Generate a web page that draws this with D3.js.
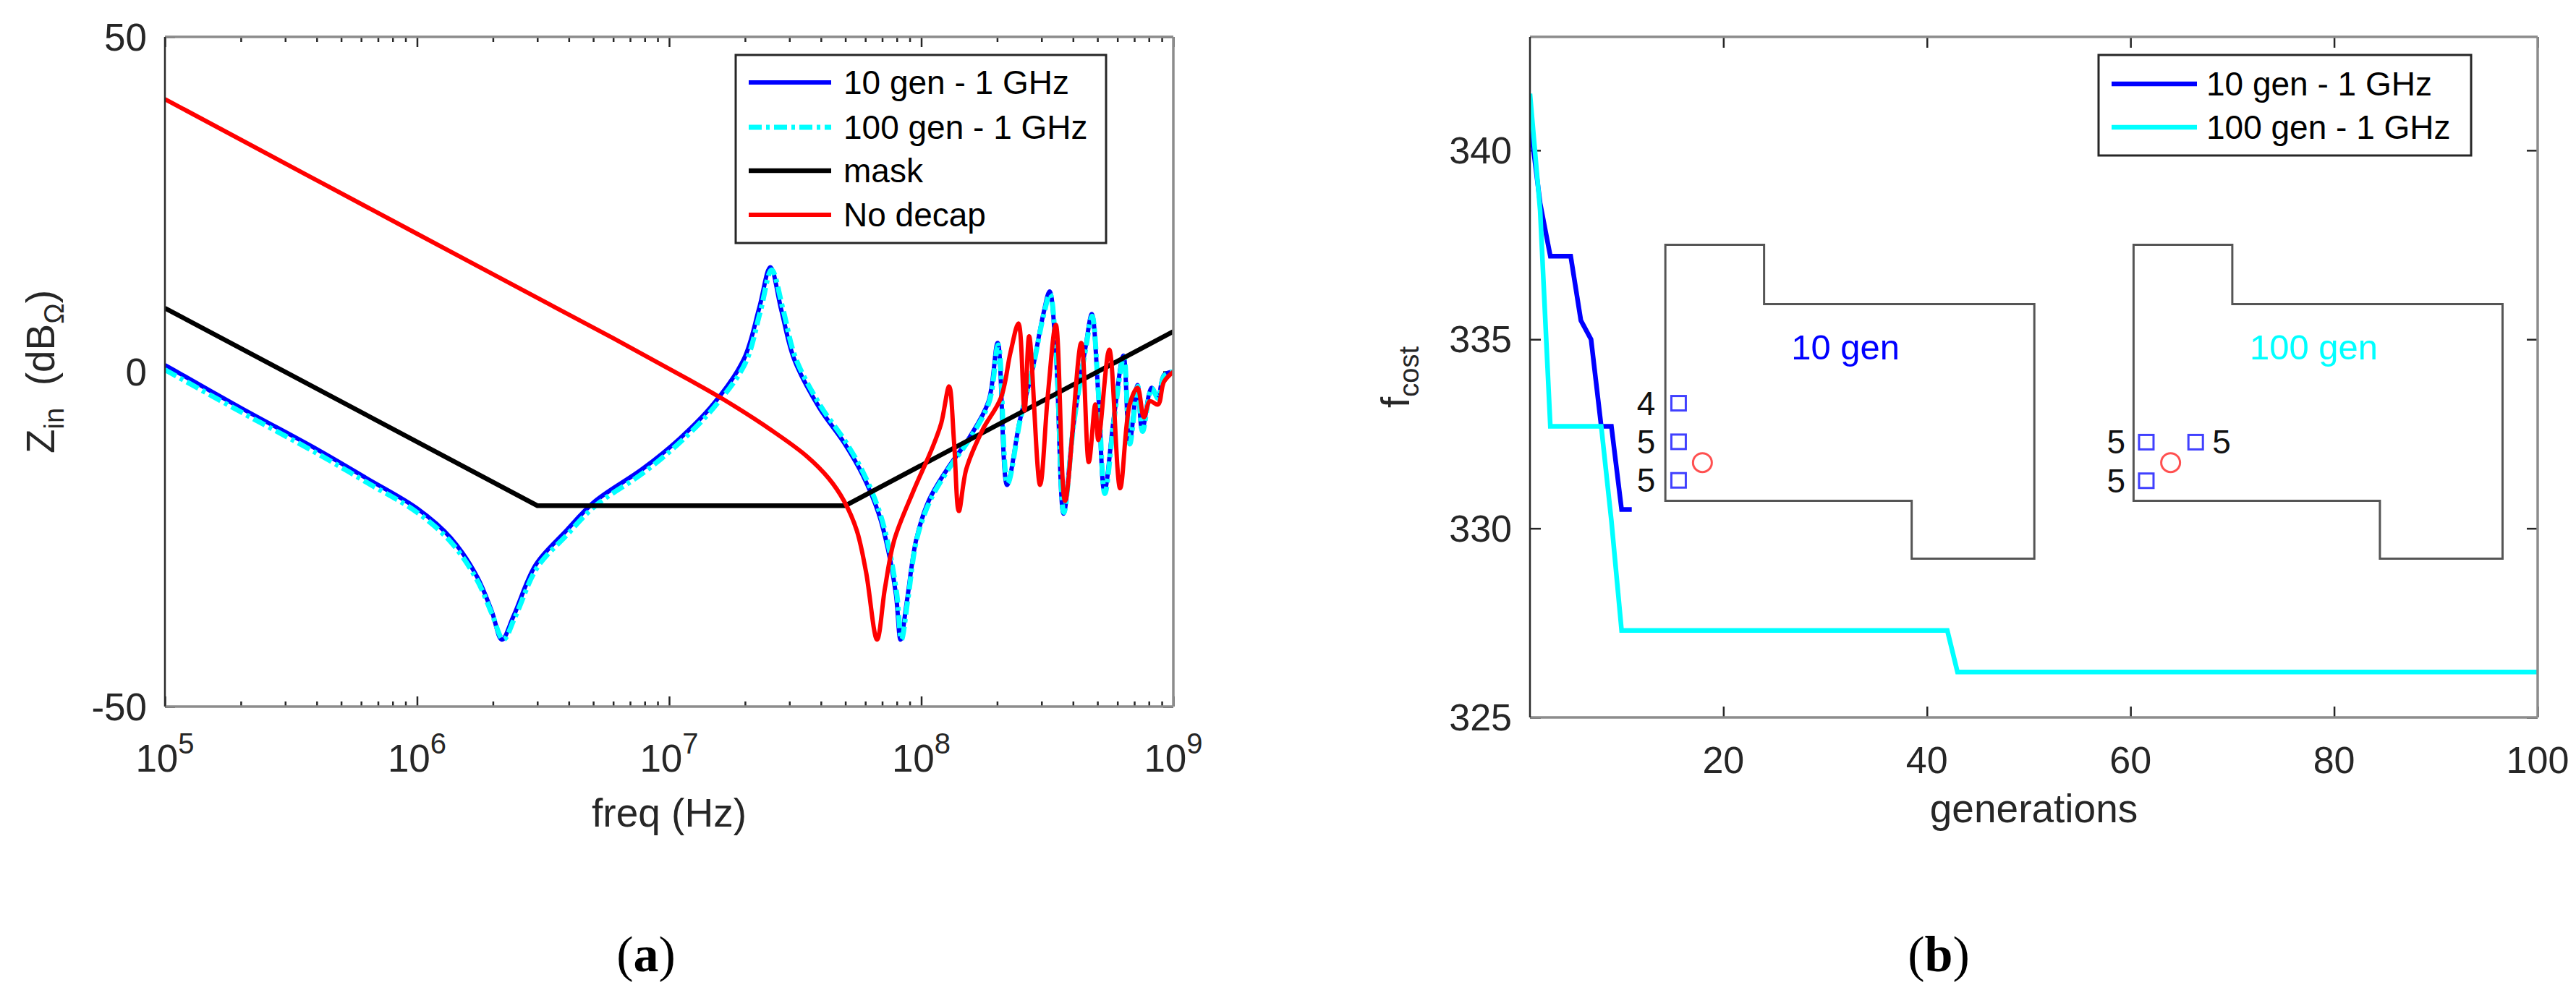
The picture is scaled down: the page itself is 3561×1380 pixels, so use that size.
<!DOCTYPE html>
<html><head><meta charset="utf-8">
<script src="https://cdn.jsdelivr.net/npm/d3@7/dist/d3.min.js"></script>
<style>body{margin:0;background:#fff}</style>
</head><body>
<svg id="chart" width="3561" height="1380" xmlns="http://www.w3.org/2000/svg"></svg>
<script>
// ---------------- DATA ----------------
// (a) input impedance vs frequency
const freqDecades = [1e5, 1e6, 1e7, 1e8, 1e9];
const freqExponents = ["5", "6", "7", "8", "9"];
const zTicks = [-50, 0, 50];
const zTickLabels = ["-50", "0", "50"];

const gen10Z = [
  [1e5,1.0],[2e5,-5.4],[4.06e5,-11.7],[6.3e5,-15.9],[1.0e6,-20.4],[1.36e6,-24.8],[1.73e6,-30.6],
  [1.98e6,-35.8],[2.17e6,-40.0],[2.42e6,-36.4],[2.96e6,-28.8],[3.87e6,-23.9],[5.06e6,-19.4],
  [7.85e6,-14.5],[1.1e7,-10.0],[1.5e7,-4.8],[1.98e7,1.9],[2.28e7,9.6],[2.52e7,15.6],[2.79e7,9.1],
  [3.13e7,1.9],[3.93e7,-5.3],[4.94e7,-10.6],[5.87e7,-15.5],[6.78e7,-21.2],[7.38e7,-26.5],
  [7.94e7,-33.3],[8.28e7,-40.0],[8.77e7,-34.3],[9.55e7,-25.1],[1.07e8,-19.3],[1.27e8,-14.5],
  [1.56e8,-9.7],[1.85e8,-4.4],[2.01e8,4.3],[2.19e8,-16.9],[2.46e8,-7.3],[2.75e8,0.0],[3.05e8,8.6],
  [3.23e8,12.0],[3.42e8,2.9],[3.67e8,-21.2],[4.01e8,-8.2],[4.49e8,3.8],[4.75e8,8.6],[5.04e8,-3.4],
  [5.33e8,-17.9],[5.81e8,-6.8],[6.34e8,2.4],[6.70e8,-10.6],[7.21e8,-2.0],[7.52e8,-8.7],
  [8.2e8,-2.4],[8.69e8,-3.9],[9.18e8,-0.5],[1e9,0.0]
];
const gen100Z = [
  [1e5,0.3],[2e5,-6.0],[4.06e5,-12.3],[6.3e5,-16.5],[1.0e6,-21.0],[1.36e6,-25.4],[1.73e6,-31.1],
  [1.98e6,-36.1],[2.2e6,-40.0],[2.45e6,-36.6],[3.0e6,-29.2],[3.9e6,-24.5],[5.1e6,-20.0],
  [7.9e6,-15.1],[1.1e7,-10.6],[1.5e7,-5.4],[2.0e7,1.2],[2.3e7,9.0],[2.55e7,15.2],[2.83e7,9.3],
  [3.17e7,2.1],[3.97e7,-5.0],[5.0e7,-10.4],[5.93e7,-15.3],[6.84e7,-21.0],[7.45e7,-26.4],
  [8.0e7,-33.2],[8.35e7,-40.0],[8.85e7,-34.0],[9.6e7,-25.0],[1.08e8,-19.4],[1.28e8,-14.6],
  [1.57e8,-9.8],[1.86e8,-4.5],[2.02e8,4.0],[2.2e8,-16.7],[2.47e8,-7.2],[2.76e8,0.2],[3.06e8,8.5],
  [3.24e8,11.6],[3.43e8,2.8],[3.68e8,-21.0],[4.02e8,-8.0],[4.5e8,3.6],[4.76e8,8.3],[5.05e8,-3.5],
  [5.35e8,-18.2],[5.83e8,-6.9],[6.36e8,2.2],[6.72e8,-10.8],[7.23e8,-2.2],[7.55e8,-8.9],
  [8.22e8,-2.5],[8.71e8,-4.0],[9.2e8,-0.6],[1e9,0.0]
];
const maskZ = [[1e5,9.5],[3e6,-20],[5e7,-20],[1e9,6]];
const noDecapZ = [
  [1e5,40.7],[1e6,20.6],[6e6,5.0],[1.2e7,-1.2],[1.62e7,-4.0],[2.56e7,-8.8],[3.51e7,-12.6],
  [4.29e7,-15.9],[4.94e7,-19.3],[5.55e7,-23.7],[6.04e7,-29.9],[6.68e7,-40.0],[7.18e7,-32.3],
  [7.82e7,-25.1],[9.29e7,-17.9],[1.10e8,-11.6],[1.20e8,-7.7],[1.29e8,-2.2],[1.35e8,-10.6],
  [1.41e8,-20.8],[1.51e8,-14.5],[1.75e8,-8.7],[2.07e8,-3.9],[2.26e8,2.9],[2.43e8,7.2],
  [2.57e8,-5.8],[2.68e8,5.3],[2.96e8,-16.9],[3.18e8,-3.4],[3.42e8,7.0],[3.72e8,-19.3],
  [4.31e8,4.3],[4.62e8,-13.5],[4.90e8,-4.9],[5.04e8,-10.2],[5.57e8,3.3],[6.15e8,-17.4],
  [6.71e8,-4.9],[7.21e8,-2.4],[7.64e8,-6.8],[8.07e8,-4.4],[8.69e8,-4.9],[9.18e8,-1.5],[1e9,0.0]
];
const legendA = ["10 gen - 1 GHz", "100 gen - 1 GHz", "mask", "No decap"];

// (b) cost vs generations
const genTicks = [20, 40, 60, 80, 100];
const costTicks = [325, 330, 335, 340];
const gen10Gens = [1, 2, 3, 4, 5, 6, 7, 8, 9, 10, 11];
const gen10Cost = [340.75, 338.6, 337.2, 337.2, 337.2, 335.5, 335.0, 332.7, 332.7, 330.5, 330.5];
const gen100Gens = [1, 2, 3, 8, 9, 10, 42, 43, 100];
const gen100Cost = [341.5, 338.4, 332.7, 332.7, 330.2, 327.3, 327.3, 326.2, 326.2];
const legendB = ["10 gen - 1 GHz", "100 gen - 1 GHz"];

// inset board outlines (drawn in data units of panel b)
const boardOutline = [[14.3,337.5],[24,337.5],[24,335.93],[50.55,335.93],[50.55,329.2],[38.5,329.2],[38.5,330.73],[14.3,330.73]];
const boardShift = [0, 46];
const boardTitles = ["10 gen", "100 gen"];
const boardTitlePos = [[32.0, 334.46], [78.0, 334.46]];
const decaps10 = [[15.6,333.31],[15.6,332.29],[15.6,331.27]];
const decaps10Labels = ["4", "5", "5"];
const decaps100 = [[61.55,332.28],[61.55,331.26],[66.4,332.28]];
const decaps100Labels = ["5", "5", "5"];
const decaps100Side = ["left", "left", "right"];
const ports = [[17.94,331.74],[63.94,331.74]];

// ---------------- DRAW ----------------
const FONT = "'Liberation Sans', Arial, Helvetica, sans-serif";
const TXT = "#262626";
const svg = d3.select("#chart");
svg.append("rect").attr("width",3561).attr("height",1380).attr("fill","#fff");

function tickAxis(parent, axisGen, transform) {
  const g = parent.append("g").attr("transform", transform).call(axisGen);
  g.select(".domain").remove();
  g.selectAll(".tick text").remove();
  g.selectAll(".tick line").attr("stroke", TXT).attr("stroke-width", 2.5);
  return g;
}
function box(parent, x0, x1, y0, y1) {
  const g = parent.append("g");
  g.append("line").attr("x1",x0).attr("x2",x1).attr("y1",y0).attr("y2",y0).attr("stroke","#8c8c8c").attr("stroke-width",3.5);
  g.append("line").attr("x1",x0).attr("x2",x1).attr("y1",y1).attr("y2",y1).attr("stroke","#8c8c8c").attr("stroke-width",3.5);
  g.append("line").attr("x1",x1).attr("x2",x1).attr("y1",y0).attr("y2",y1).attr("stroke","#8c8c8c").attr("stroke-width",3.5);
  g.append("line").attr("x1",x0).attr("x2",x0).attr("y1",y0).attr("y2",y1).attr("stroke","#2a2a2a").attr("stroke-width",2.5);
}

// ===== Panel (a) =====
const A = {x0:228, x1:1622, y0:51, y1:977};
const xA = d3.scaleLog().domain([1e5,1e9]).range([A.x0, A.x1]);
const yA = d3.scaleLinear().domain([-50,50]).range([A.y1, A.y0]);
const gA = svg.append("g");
svg.append("clipPath").attr("id","clipA").append("rect")
  .attr("x",A.x0).attr("y",A.y0).attr("width",A.x1-A.x0).attr("height",A.y1-A.y0);

const minorA = [];
freqDecades.slice(0,-1).forEach(d => { for (let k=2;k<=9;k++) minorA.push(d*k); });
tickAxis(gA, d3.axisBottom(xA).tickValues(minorA).tickSize(-7).tickFormat(""), `translate(0,${A.y1})`);
tickAxis(gA, d3.axisBottom(xA).tickValues(freqDecades).tickSize(-14).tickFormat(""), `translate(0,${A.y1})`);
tickAxis(gA, d3.axisTop(xA).tickValues(minorA).tickSize(-7).tickFormat(""), `translate(0,${A.y0})`);
tickAxis(gA, d3.axisTop(xA).tickValues(freqDecades).tickSize(-14).tickFormat(""), `translate(0,${A.y0})`);
tickAxis(gA, d3.axisLeft(yA).tickValues(zTicks).tickSize(-14).tickFormat(""), `translate(${A.x0},0)`);
tickAxis(gA, d3.axisRight(yA).tickValues(zTicks).tickSize(-14).tickFormat(""), `translate(${A.x1},0)`);

const lineA = d3.line().x(d => xA(d[0])).y(d => yA(d[1])).curve(d3.curveCatmullRom.alpha(0.5));
const plotA = gA.append("g").attr("clip-path","url(#clipA)");
plotA.append("path").attr("d", lineA(gen10Z)).attr("fill","none").attr("stroke","#0000ff").attr("stroke-width",6).attr("stroke-linejoin","round");
plotA.append("path").attr("d", lineA(gen100Z)).attr("fill","none").attr("stroke","#00ffff").attr("stroke-width",7).attr("stroke-dasharray","18,6,5,6");
plotA.append("path").attr("d", d3.line().x(d => xA(d[0])).y(d => yA(d[1]))(maskZ)).attr("fill","none").attr("stroke","#000").attr("stroke-width",6.5);
plotA.append("path").attr("d", lineA(noDecapZ)).attr("fill","none").attr("stroke","#ff0000").attr("stroke-width",6).attr("stroke-linejoin","round");

box(gA, A.x0, A.x1, A.y0, A.y1);

// tick labels (a)
gA.selectAll("text.xl").data(freqDecades).join("text")
  .attr("x", d => xA(d)).attr("y", 1067).attr("text-anchor","middle")
  .attr("font-family", FONT).attr("font-size", 53).attr("fill", TXT)
  .each(function(d,i){
    const t = d3.select(this);
    t.append("tspan").text("10");
    t.append("tspan").attr("font-size",40).attr("dy",-25).text(freqExponents[i]);
  });
gA.selectAll("text.yl").data(zTicks).join("text")
  .attr("x", 203).attr("y", d => yA(d) + 19).attr("text-anchor","end")
  .attr("font-family", FONT).attr("font-size", 53).attr("fill", TXT)
  .text((d,i) => zTickLabels[i]);
gA.append("text").attr("x", (A.x0+A.x1)/2).attr("y", 1143).attr("text-anchor","middle")
  .attr("font-family", FONT).attr("font-size", 55).attr("fill", TXT).text("freq (Hz)");
const zl = gA.append("text").attr("transform", `translate(75,${(A.y0+A.y1)/2}) rotate(-90)`)
  .attr("text-anchor","middle").attr("font-family", FONT).attr("font-size", 55).attr("fill", TXT);
zl.append("tspan").text("Z");
zl.append("tspan").attr("font-size",38).attr("dy",13).text("in");
zl.append("tspan").attr("dy",-13).text("\u00A0\u00A0(dB");
zl.append("tspan").attr("font-size",38).attr("dy",13).text("\u03A9");
zl.append("tspan").attr("dy",-13).text(")");

// legend (a)
const LA = {x:1017, y:76, w:512, h:260, rows:[114,176,236,297]};
gA.append("rect").attr("x",LA.x).attr("y",LA.y).attr("width",LA.w).attr("height",LA.h)
  .attr("fill","#fff").attr("stroke","#262626").attr("stroke-width",3);
const legStyles = [
  {c:"#0000ff", w:6, dash:null},
  {c:"#00ffff", w:7, dash:"18,6,5,6"},
  {c:"#000000", w:6.5, dash:null},
  {c:"#ff0000", w:6, dash:null}
];
legendA.forEach((name,i) => {
  const yy = LA.rows[i];
  const l = gA.append("line").attr("x1",1035).attr("x2",1149).attr("y1",yy).attr("y2",yy)
    .attr("stroke",legStyles[i].c).attr("stroke-width",legStyles[i].w);
  if (legStyles[i].dash) l.attr("stroke-dasharray",legStyles[i].dash);
  gA.append("text").attr("x",1166).attr("y",yy+16).attr("font-family",FONT).attr("font-size",46)
    .attr("fill","#000").text(name);
});

// ===== Panel (b) =====
const B = {x0:2115, x1:3508, y0:51, y1:992};
const xB = d3.scaleLinear().domain([1,100]).range([B.x0, B.x1]);
const yB = d3.scaleLinear().domain([325,343]).range([B.y1, B.y0]);
const gB = svg.append("g");
svg.append("clipPath").attr("id","clipB").append("rect")
  .attr("x",B.x0).attr("y",B.y0).attr("width",B.x1-B.x0).attr("height",B.y1-B.y0);

tickAxis(gB, d3.axisBottom(xB).tickValues(genTicks).tickSize(-15).tickFormat(""), `translate(0,${B.y1})`);
tickAxis(gB, d3.axisTop(xB).tickValues(genTicks).tickSize(-15).tickFormat(""), `translate(0,${B.y0})`);
tickAxis(gB, d3.axisLeft(yB).tickValues(costTicks).tickSize(-15).tickFormat(""), `translate(${B.x0},0)`);
tickAxis(gB, d3.axisRight(yB).tickValues(costTicks).tickSize(-15).tickFormat(""), `translate(${B.x1},0)`);

// inset board outlines
boardShift.forEach((s, k) => {
  const pts = boardOutline.map(p => [xB(p[0]+s), yB(p[1])]);
  gB.append("path").attr("d", d3.line()(pts) + "Z").attr("fill","none")
    .attr("stroke","#555").attr("stroke-width",3);
  gB.append("text").attr("x", xB(boardTitlePos[k][0])).attr("y", yB(boardTitlePos[k][1]))
    .attr("text-anchor","middle").attr("font-family",FONT).attr("font-size",49)
    .attr("fill", k === 0 ? "#0000ff" : "#00ffff").text(boardTitles[k]);
});
function decap(p) {
  gB.append("rect").attr("x", xB(p[0]) - 10).attr("y", yB(p[1]) - 10).attr("width",20).attr("height",20)
    .attr("fill","none").attr("stroke","#4040ff").attr("stroke-width",3);
}
decaps10.forEach((p,i) => {
  decap(p);
  gB.append("text").attr("x", xB(p[0]) - 32).attr("y", yB(p[1]) + 16).attr("text-anchor","end")
    .attr("font-family",FONT).attr("font-size",46).attr("fill","#111").text(decaps10Labels[i]);
});
decaps100.forEach((p,i) => {
  decap(p);
  const right = decaps100Side[i] === "right";
  gB.append("text").attr("x", xB(p[0]) + (right ? 23 : -29)).attr("y", yB(p[1]) + 16)
    .attr("text-anchor", right ? "start" : "end")
    .attr("font-family",FONT).attr("font-size",46).attr("fill","#111").text(decaps100Labels[i]);
});
ports.forEach(p => {
  gB.append("circle").attr("cx", xB(p[0])).attr("cy", yB(p[1])).attr("r",13)
    .attr("fill","none").attr("stroke","#ff5050").attr("stroke-width",3);
});

const plotB = gB.append("g").attr("clip-path","url(#clipB)");
const lineB = d3.line().x(d => xB(d[0])).y(d => yB(d[1]));
plotB.append("path").attr("d", lineB(gen10Gens.map((g,i) => [g, gen10Cost[i]])))
  .attr("fill","none").attr("stroke","#0000ff").attr("stroke-width",6.5).attr("stroke-linejoin","miter");
plotB.append("path").attr("d", lineB(gen100Gens.map((g,i) => [g, gen100Cost[i]])))
  .attr("fill","none").attr("stroke","#00ffff").attr("stroke-width",6.5).attr("stroke-linejoin","miter");

box(gB, B.x0, B.x1, B.y0, B.y1);

gB.selectAll("text.xl").data(genTicks).join("text")
  .attr("x", d => xB(d)).attr("y", 1069).attr("text-anchor","middle")
  .attr("font-family",FONT).attr("font-size",52).attr("fill",TXT).text(d => d);
gB.selectAll("text.yl").data(costTicks).join("text")
  .attr("x", 2090).attr("y", d => yB(d) + 18).attr("text-anchor","end")
  .attr("font-family",FONT).attr("font-size",52).attr("fill",TXT).text(d => d);
gB.append("text").attr("x",(B.x0+B.x1)/2).attr("y",1137).attr("text-anchor","middle")
  .attr("font-family",FONT).attr("font-size",55).attr("fill",TXT).text("generations");
const fl = gB.append("text").attr("transform", `translate(1948,${(B.y0+B.y1)/2}) rotate(-90)`)
  .attr("text-anchor","middle").attr("font-family",FONT).attr("font-size",55).attr("fill",TXT);
fl.append("tspan").text("f");
fl.append("tspan").attr("font-size",38).attr("dy",13).text("cost");

// legend (b)
const LB = {x:2901, y:76, w:515, h:139, rows:[116,176]};
gB.append("rect").attr("x",LB.x).attr("y",LB.y).attr("width",LB.w).attr("height",LB.h)
  .attr("fill","#fff").attr("stroke","#262626").attr("stroke-width",3);
const legBColors = ["#0000ff","#00ffff"];
legendB.forEach((name,i) => {
  const yy = LB.rows[i];
  gB.append("line").attr("x1",2919).attr("x2",3037).attr("y1",yy).attr("y2",yy)
    .attr("stroke",legBColors[i]).attr("stroke-width",6.5);
  gB.append("text").attr("x",3050).attr("y",yy+16).attr("font-family",FONT).attr("font-size",46)
    .attr("fill","#000").text(name);
});

// sub-figure captions
const cap = (x, letter) => {
  const t = svg.append("text").attr("x",x).attr("y",1343).attr("text-anchor","middle")
    .attr("font-family","'Liberation Serif', 'Times New Roman', serif").attr("font-size",70).attr("fill","#000");
  t.append("tspan").text("(");
  t.append("tspan").attr("font-weight","bold").text(letter);
  t.append("tspan").text(")");
};
cap(893, "a");
cap(2680, "b");
</script>
</body></html>
